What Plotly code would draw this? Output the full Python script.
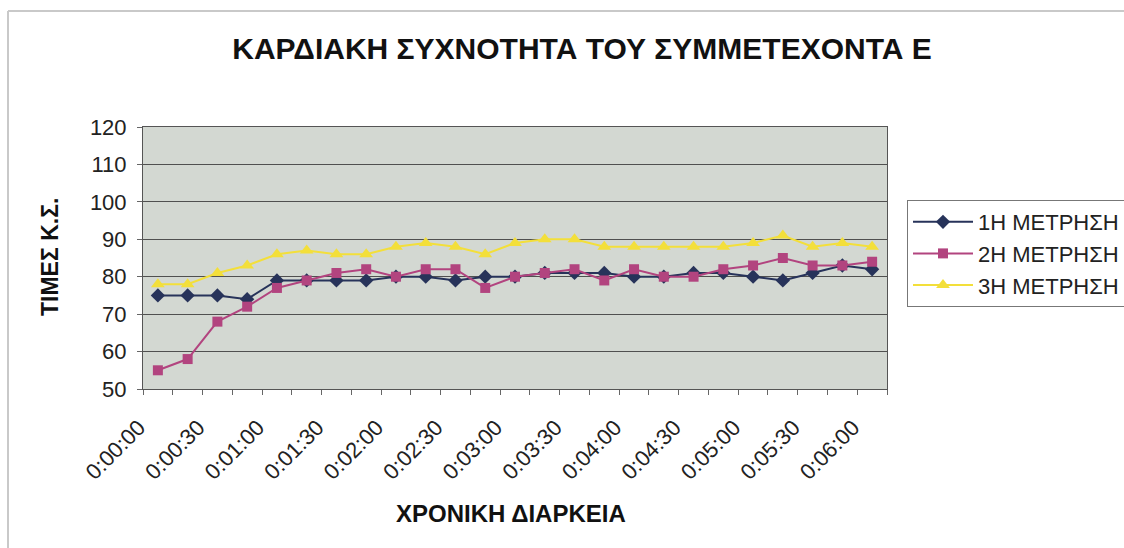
import numpy as np
import plotly.graph_objects as go

# Time points (every 15 s) and heart-rate measurements
time_labels = [
    "0:00:00", "0:00:15", "0:00:30", "0:00:45", "0:01:00", "0:01:15", "0:01:30",
    "0:01:45", "0:02:00", "0:02:15", "0:02:30", "0:02:45", "0:03:00", "0:03:15",
    "0:03:30", "0:03:45", "0:04:00", "0:04:15", "0:04:30", "0:04:45", "0:05:00",
    "0:05:15", "0:05:30", "0:05:45", "0:06:00",
]
meas_1 = [75, 75, 75, 74, 79, 79, 79, 79, 80, 80, 79, 80, 80, 81, 81, 81, 80, 80,
          81, 81, 80, 79, 81, 83, 82]
meas_2 = [55, 58, 68, 72, 77, 79, 81, 82, 80, 82, 82, 77, 80, 81, 82, 79, 82, 80,
          80, 82, 83, 85, 83, 83, 84]
meas_3 = [78, 78, 81, 83, 86, 87, 86, 86, 88, 89, 88, 86, 89, 90, 90, 88, 88, 88,
          88, 88, 89, 91, 88, 89, 88]
series_names = ["1Η ΜΕΤΡΗΣΗ", "2Η ΜΕΤΡΗΣΗ", "3Η ΜΕΤΡΗΣΗ"]
y_ticks = [50, 60, 70, 80, 90, 100, 110, 120]

W, H = 1124, 548
ML, MR, MT, MB = 143, 237, 127, 159
PW, PH = W - ML - MR, H - MT - MB

x_idx = np.arange(len(time_labels))
FONT = "Liberation Sans, Arial, sans-serif"

styles = [
    dict(color="#27335a", symbol="diamond", size=11),
    dict(color="#b2447f", symbol="square", size=10),
    dict(color="#f3df3a", symbol="triangle-up", size=12),
]

fig = go.Figure()
for name, vals, st in zip(series_names, [meas_1, meas_2, meas_3], styles):
    fig.add_trace(go.Scatter(
        x=x_idx, y=vals, name=name, mode="lines+markers",
        line=dict(color=st["color"], width=2),
        marker=dict(color=st["color"], symbol=st["symbol"], size=st["size"]),
    ))


def px_to_paper_x(px):
    return (px - ML) / PW


def px_to_paper_y(py):
    return (H - MB - py) / PH


frame_col = "#c9c9c9"
fig.update_layout(
    width=W, height=H,
    margin=dict(l=ML, r=MR, t=MT, b=MB, autoexpand=False),
    paper_bgcolor="white",
    plot_bgcolor="#d3d8d2",
    font=dict(family=FONT, color="#1a1a1a", size=22),
    title=dict(
        text="<b>ΚΑΡΔΙΑΚΗ ΣΥΧΝΟΤΗΤΑ ΤΟΥ ΣΥΜΜΕΤΕΧΟΝΤΑ Ε</b>",
        font=dict(family=FONT, size=30, color="#111"),
        xref="container", yref="container",
        x=582 / W, y=1 - 48 / H, xanchor="center", yanchor="middle",
    ),
    xaxis=dict(
        range=[-0.5, len(time_labels) - 0.5],
        tickmode="array", tickvals=x_idx[::2], ticktext=time_labels[::2],
        tickangle=-45, ticks="", ticklabelstandoff=16, ticklabelshift=-19,
        tickfont=dict(size=22, color="#222"),
        showgrid=False, zeroline=False,
        showline=True, linecolor="#555", linewidth=1, mirror=True,
        minor=dict(tickmode="array", tickvals=list(np.arange(len(time_labels) + 1) - 0.5),
                   ticks="outside", ticklen=5, tickcolor="#666", showgrid=False),
    ),
    yaxis=dict(
        range=[50, 120], tickmode="array", tickvals=y_ticks,
        ticks="outside", ticklen=5, tickcolor="#666", ticklabelstandoff=6,
        tickfont=dict(size=22, color="#222"),
        showgrid=True, gridcolor="#505050", gridwidth=1, zeroline=False,
        showline=True, linecolor="#555", linewidth=1, mirror=True,
    ),
    legend=dict(
        x=px_to_paper_x(907), y=px_to_paper_y(200), xanchor="left", yanchor="top",
        bordercolor="#777", borderwidth=1, bgcolor="white",
        font=dict(size=22, color="#222", family=FONT),
        tracegroupgap=0, itemwidth=60,
    ),
    showlegend=True,
    annotations=[
        dict(text="<b>ΧΡΟΝΙΚΗ ΔΙΑΡΚΕΙΑ</b>", xref="paper", yref="paper",
             x=px_to_paper_x(511), y=px_to_paper_y(513), showarrow=False,
             xanchor="center", yanchor="middle", font=dict(size=24, color="#111")),
        dict(text="<b>ΤΙΜΕΣ Κ.Σ.</b>", xref="paper", yref="paper",
             x=px_to_paper_x(50), y=px_to_paper_y(257), showarrow=False, textangle=-90,
             xanchor="center", yanchor="middle", font=dict(size=23, color="#111")),
    ],
    shapes=[
        dict(type="line", xref="paper", yref="paper",
             x0=px_to_paper_x(8), x1=px_to_paper_x(W + 5),
             y0=px_to_paper_y(11), y1=px_to_paper_y(11),
             line=dict(color=frame_col, width=2)),
        dict(type="line", xref="paper", yref="paper",
             x0=px_to_paper_x(8), x1=px_to_paper_x(8),
             y0=px_to_paper_y(11), y1=px_to_paper_y(H + 5),
             line=dict(color=frame_col, width=2)),
    ],
)

fig.write_html("out.html")
